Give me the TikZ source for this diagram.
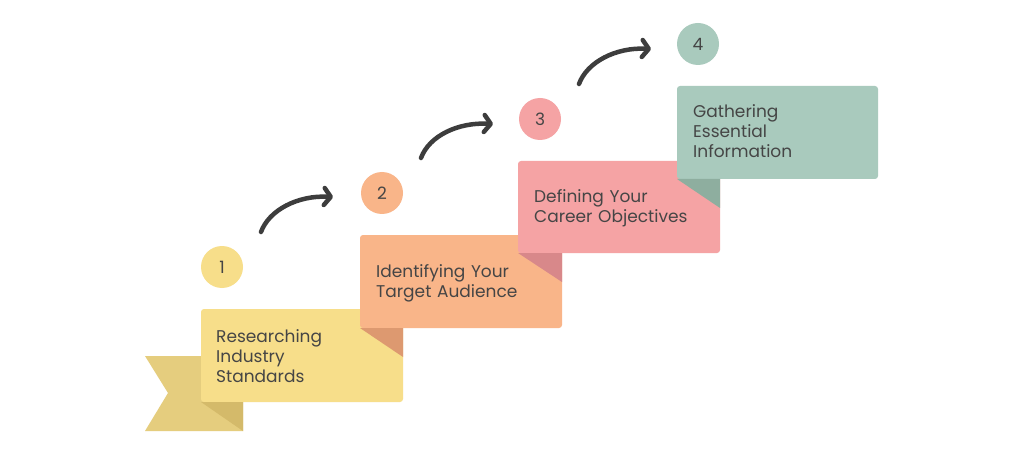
\documentclass[tikz,border=0pt]{standalone}
\usepackage{fontspec}
\setmainfont{Poppins}
\usetikzlibrary{arrows.meta}
\definecolor{txt}{HTML}{454545}
\definecolor{ylw}{HTML}{F7DE8A}
\definecolor{ylwtail}{HTML}{E5CD7E}
\definecolor{ylwfold}{HTML}{D4BA6A}
\definecolor{org}{HTML}{F9B589}
\definecolor{orgfold}{HTML}{DD9970}
\definecolor{pnk}{HTML}{F5A3A4}
\definecolor{pnkfold}{HTML}{D8888A}
\definecolor{grn}{HTML}{A9CABD}
\definecolor{grnfold}{HTML}{8EAE9F}
\definecolor{arr}{HTML}{3D3D3D}
\begin{document}
\begin{tikzpicture}[x=1pt,y=-1pt,
  card/.style={rounded corners=3pt},
  label/.style={anchor=base west,inner sep=0pt,text width=185pt,align=left,
     font=\fontsize{17}{20}\selectfont,text=txt},
  num/.style={circle,minimum size=42pt,inner sep=0pt,font=\fontsize{17}{18}\selectfont,text=txt},
  curvy/.style={draw=arr,line width=4.5pt,line cap=round,
     -{Straight Barb[length=6.5pt,width=17pt,round]}}]
\fill[white] (0,0) rectangle (1024,462);
\useasboundingbox (0,0) rectangle (1024,462);
% ribbon tail
\fill[ylwtail] (145,356) -- (243,356) -- (243,431) -- (145,431) -- (168,393) -- cycle;
% box 1
\fill[ylw,card] (201,309) rectangle (403,402);
\fill[ylwfold] (201,402) -- (243,402) -- (243,431) -- cycle;
\node[label] (t1) at (216,342) {Researching\\Industry\\Standards};
% box 2
\fill[org,card] (360,235) rectangle (562,328);
\fill[orgfold] (360,328) -- (403,328) -- (403,357) -- cycle;
\node[label] (t2) at (376,277) {Identifying Your\\Target Audience};
% box 3
\fill[pnk,card] (518,161) rectangle (720,253);
\fill[pnkfold] (518,253) -- (562,253) -- (562,282) -- cycle;
\node[label] (t3) at (534,203) {Defining Your\\Career Objectives};
% box 4
\fill[grn,card] (677,86) rectangle (878,179);
\fill[grnfold] (677,179) -- (720,179) -- (720,208) -- cycle;
\node[label] (t4) at (693,118) {Gathering\\Essential\\Information};
% numbers
\node[num,fill=ylw] (n1) at (222,267) {1};
\node[num,fill=org] (n2) at (382,193) {2};
\node[num,fill=pnk] (n3) at (540,119) {3};
\node[num,fill=grn] (n4) at (698,44) {4};
% arrows
\coordinate (a1s) at (261,232); \coordinate (a1e) at (333,197);
\coordinate (a2s) at (421,158); \coordinate (a2e) at (493,124);
\coordinate (a3s) at (579,84);  \coordinate (a3e) at (651,49);
\draw[curvy] (a1s) .. controls +(8,-22) and +(-35,-2) .. (a1e);
\draw[curvy] (a2s) .. controls +(8,-22) and +(-35,-2) .. (a2e);
\draw[curvy] (a3s) .. controls +(8,-22) and +(-35,-2) .. (a3e);
\end{tikzpicture}
\end{document}
